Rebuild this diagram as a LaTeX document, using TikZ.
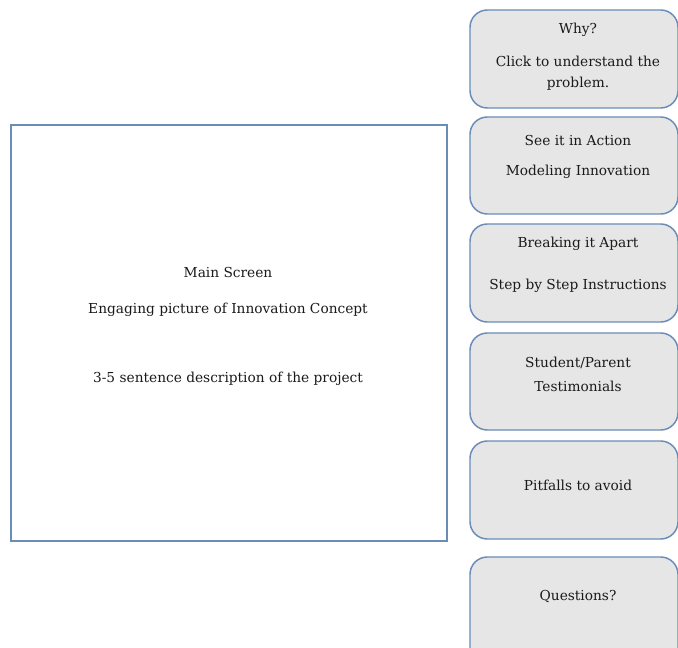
\documentclass[tikz,border=0pt]{standalone}
\usepackage{fontspec}
\setmainfont{DejaVu Serif}
\definecolor{edge}{HTML}{6A8DB8}
\definecolor{boxfill}{HTML}{E6E6E6}
\definecolor{txt}{HTML}{1A1A1A}
\begin{document}
\begin{tikzpicture}[x=0.75pt,y=-0.75pt,
  sidebox/.style={draw=edge,line width=1.1pt,fill=boxfill,rounded corners=13pt},
  mainbox/.style={draw=edge,line width=1.1pt,fill=white},
  lbl/.style={inner sep=0pt,text=txt,font=\fontsize{10.3}{12}\selectfont,anchor=center}]
\useasboundingbox (0,0) rectangle (678,648);
\clip (0,0) rectangle (678,648);
\fill[white] (0,0) rectangle (678,648);
% main screen
\draw[mainbox] (11,125) rectangle (447,541);
\node[lbl] (m1) at (228,273) {Main Screen};
\node[lbl] (m2) at (228,310) {Engaging picture of Innovation Concept};
\node[lbl] (m3) at (228,379) {3-5 sentence description of the project};
% side boxes
\draw[sidebox] (470,10) rectangle (678,108);
\draw[sidebox] (470,117) rectangle (678,214);
\draw[sidebox] (470,224) rectangle (678,322);
\draw[sidebox] (470,333) rectangle (678,430);
\draw[sidebox] (470,441) rectangle (678,539);
\draw[sidebox] (470,557) rectangle (678,670);
\node[lbl] (b1a) at (578,30) {Why?};
\node[lbl] (b1b) at (578,61) {Click to understand the};
\node[lbl] (b1c) at (578,84) {problem.};
\node[lbl] (b2a) at (578,141) {See it in Action};
\node[lbl] (b2b) at (578,172) {Modeling Innovation};
\node[lbl] (b3a) at (578,244) {Breaking it Apart};
\node[lbl] (b3b) at (578,286) {Step by Step Instructions};
\node[lbl] (b4a) at (578,363) {Student/Parent};
\node[lbl] (b4b) at (578,386) {Testimonials};
\node[lbl] (b5) at (578,485) {Pitfalls to avoid};
\node[lbl] (b6) at (578,597) {Questions?};
\end{tikzpicture}
\end{document}
